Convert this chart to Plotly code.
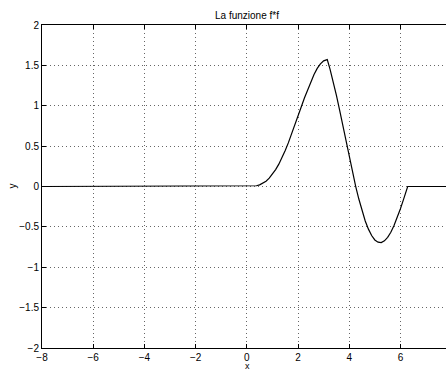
import plotly.graph_objects as go

# Curve values (f*f)
x_vals = [-8.0, 0.0, 0.125, 0.25, 0.375, 0.5, 0.625, 0.75, 0.875, 1.0, 1.125, 1.25, 1.375, 1.5,
          1.625, 1.75, 1.875, 2.0, 2.125, 2.25, 2.375, 2.5, 2.625, 2.75, 2.875, 3.0, 3.07, 3.1416,
          3.25, 3.375, 3.5, 3.625, 3.75, 3.875, 4.0, 4.125, 4.25, 4.375, 4.5, 4.625, 4.75, 4.875,
          5.0, 5.125, 5.25, 5.375, 5.5, 5.625, 5.75, 5.875, 6.0, 6.125, 6.2832, 8.0]
y_vals = [0.0, 0.0, 0.0, 0.003, 0.009, 0.02, 0.039, 0.066, 0.103, 0.151, 0.209, 0.277, 0.357, 0.446,
          0.543, 0.648, 0.758, 0.871, 0.984, 1.096, 1.202, 1.301, 1.388, 1.462, 1.518, 1.556, 1.567, 1.571,
          1.454, 1.299, 1.128, 0.945, 0.754, 0.560, 0.368, 0.187, 0.006, -0.155, -0.301, -0.427, -0.528, -0.607,
          -0.662, -0.690, -0.694, -0.673, -0.630, -0.567, -0.484, -0.386, -0.276, -0.157, 0.0, 0.0]

x_ticks = [-8, -6, -4, -2, 0, 2, 4, 6]
x_ticktext = ["\u22128", "\u22126", "\u22124", "\u22122", "0", "2", "4", "6"]
y_ticks = [-2, -1.5, -1, -0.5, 0, 0.5, 1, 1.5, 2]
y_ticktext = ["\u22122", "\u22121.5", "\u22121", "\u22120.5", "0", "0.5", "1", "1.5", "2"]

title_text = "La funzione f*f"
x_label = "x"
y_label = "y"

font_family = "Liberation Sans, Arial, Helvetica, sans-serif"

fig = go.Figure(go.Scatter(x=x_vals, y=y_vals, mode="lines",
                           line=dict(color="black", width=1.2),
                           hoverinfo="skip", showlegend=False))

axis_common = dict(
    showline=True, linecolor="black", linewidth=1,
    ticks="inside", ticklen=4, tickcolor="black", tickwidth=1,
    showgrid=True, gridcolor="#666", gridwidth=1, griddash="1px,3px",
    zeroline=False, tickfont=dict(size=10, color="black", family=font_family),
)

plot_w = 446 - 42
plot_h = 369 - 25 - 21

fig.update_layout(
    width=446, height=369,
    margin=dict(l=42, r=0, t=25, b=21, pad=0),
    paper_bgcolor="white", plot_bgcolor="white",
    font=dict(family=font_family, color="black", size=10),
    xaxis=dict(range=[-8, 7.78], tickvals=x_ticks, ticktext=x_ticktext,
               mirror="ticks", **axis_common),
    yaxis=dict(range=[-2, 2], tickvals=y_ticks, ticktext=y_ticktext,
               mirror=False, **axis_common),
    annotations=[
        dict(text=title_text, xref="paper", yref="paper", x=(247 - 42) / plot_w,
             y=1 + 10 / plot_h, xanchor="center", yanchor="middle", showarrow=False,
             font=dict(size=10, color="black")),
        dict(text=x_label, xref="paper", yref="paper", x=(247 - 42) / plot_w,
             y=-18 / plot_h, xanchor="center", yanchor="middle", showarrow=False,
             borderpad=0, font=dict(size=9, color="black")),
        dict(text=y_label, xref="paper", yref="paper", x=-30 / plot_w,
             y=0.5, xanchor="center", yanchor="middle", showarrow=False,
             textangle=-90, font=dict(size=10, color="black")),
    ],
)

fig.write_html("out.html")
